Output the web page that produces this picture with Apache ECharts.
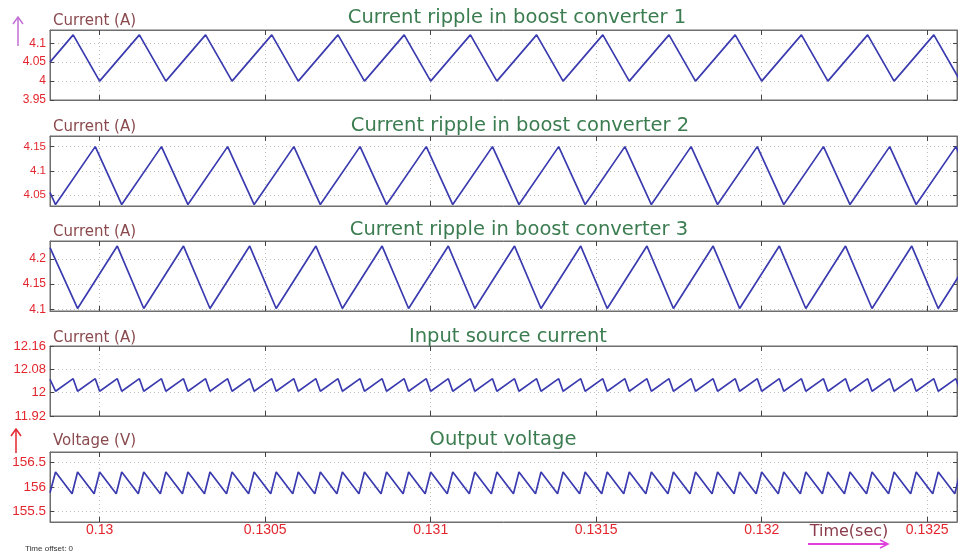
<!DOCTYPE html>
<html>
<head>
<meta charset="utf-8">
<script src="https://cdn.jsdelivr.net/npm/echarts@6/dist/echarts.min.js"></script>
<style>
html,body{margin:0;padding:0;background:#fff;}
#chart{width:958px;height:552px;}
</style>
</head>
<body>
<div id="chart"></div>
<script>
// ---------- data ----------
const panelTitles = [
  'Current ripple in boost converter 1',
  'Current ripple in boost converter 2',
  'Current ripple in boost converter 3',
  'Input source current',
  'Output voltage'
];
const yAxisNames = ['Current (A)', 'Current (A)', 'Current (A)', 'Current (A)', 'Voltage (V)'];
const xTicks = [0.13, 0.1305, 0.131, 0.1315, 0.132, 0.1325];
const xTickLabels = ['0.13', '0.1305', '0.131', '0.1315', '0.132', '0.1325'];
const xRange = [0.12985, 0.13259];

const yTicks1 = [3.95, 4, 4.05, 4.1];
const yTickLabels1 = ['3.95', '4', '4.05', '4.1'];
const yTicks2 = [4.05, 4.1, 4.15];
const yTickLabels2 = ['4.05', '4.1', '4.15'];
const yTicks3 = [4.1, 4.15, 4.2];
const yTickLabels3 = ['4.1', '4.15', '4.2'];
const yTicks4 = [11.92, 12, 12.08, 12.16];
const yTickLabels4 = ['11.92', '12', '12.08', '12.16'];
const yTicks5 = [155.5, 156, 156.5];
const yTickLabels5 = ['155.5', '156', '156.5'];
const yRanges = [[3.95, 4.135], [4.027, 4.172], [4.097, 4.235], [11.92, 12.16], [155.28, 156.72]];

// converter 1 current (time s, current A)
const conv1 = [
  [0.12985, 4.05], [0.12992, 4.122], [0.13000, 4.0], [0.13012, 4.122], [0.13020, 4.0],
  [0.13032, 4.122], [0.13040, 4.0], [0.13052, 4.122], [0.13060, 4.0], [0.13072, 4.122],
  [0.13080, 4.0], [0.13092, 4.122], [0.13100, 4.0], [0.13112, 4.122], [0.13120, 4.0],
  [0.13132, 4.122], [0.13140, 4.0], [0.13152, 4.122], [0.13160, 4.0], [0.13172, 4.122],
  [0.13180, 4.0], [0.13192, 4.122], [0.13200, 4.0], [0.13212, 4.122], [0.13220, 4.0],
  [0.13232, 4.122], [0.13240, 4.0], [0.13252, 4.122], [0.13260, 4.0]
];
// converter 2 current
const conv2 = [
  [0.12985, 4.055], [0.1298667, 4.03], [0.1299867, 4.15], [0.1300667, 4.03], [0.1301867, 4.15],
  [0.1302667, 4.03], [0.1303867, 4.15], [0.1304667, 4.03], [0.1305867, 4.15], [0.1306667, 4.03],
  [0.1307867, 4.15], [0.1308667, 4.03], [0.1309867, 4.15], [0.1310667, 4.03], [0.1311867, 4.15],
  [0.1312667, 4.03], [0.1313867, 4.15], [0.1314667, 4.03], [0.1315867, 4.15], [0.1316667, 4.03],
  [0.1317867, 4.15], [0.1318667, 4.03], [0.1319867, 4.15], [0.1320667, 4.03], [0.1321867, 4.15],
  [0.1322667, 4.03], [0.1323867, 4.15], [0.1324667, 4.03], [0.1325867, 4.15], [0.1326667, 4.03]
];
// converter 3 current
const conv3 = [
  [0.12985, 4.222], [0.1298533, 4.225], [0.1299333, 4.102], [0.1300533, 4.225], [0.1301333, 4.102],
  [0.1302533, 4.225], [0.1303333, 4.102], [0.1304533, 4.225], [0.1305333, 4.102], [0.1306533, 4.225],
  [0.1307333, 4.102], [0.1308533, 4.225], [0.1309333, 4.102], [0.1310533, 4.225], [0.1311333, 4.102],
  [0.1312533, 4.225], [0.1313333, 4.102], [0.1314533, 4.225], [0.1315333, 4.102], [0.1316533, 4.225],
  [0.1317333, 4.102], [0.1318533, 4.225], [0.1319333, 4.102], [0.1320533, 4.225], [0.1321333, 4.102],
  [0.1322533, 4.225], [0.1323333, 4.102], [0.1324533, 4.225], [0.1325333, 4.102], [0.1326533, 4.225]
];
// input source current
const inputCurrent = [
  [0.12985, 12.046],
  [0.1298533, 12.048], [0.1298667, 12.005], [0.1299200, 12.048], [0.1299333, 12.005],
  [0.1299867, 12.048], [0.1300000, 12.005], [0.1300533, 12.048], [0.1300667, 12.005],
  [0.1301200, 12.048], [0.1301333, 12.005], [0.1301867, 12.048], [0.1302000, 12.005],
  [0.1302533, 12.048], [0.1302667, 12.005], [0.1303200, 12.048], [0.1303333, 12.005],
  [0.1303867, 12.048], [0.1304000, 12.005], [0.1304533, 12.048], [0.1304667, 12.005],
  [0.1305200, 12.048], [0.1305333, 12.005], [0.1305867, 12.048], [0.1306000, 12.005],
  [0.1306533, 12.048], [0.1306667, 12.005], [0.1307200, 12.048], [0.1307333, 12.005],
  [0.1307867, 12.048], [0.1308000, 12.005], [0.1308533, 12.048], [0.1308667, 12.005],
  [0.1309200, 12.048], [0.1309333, 12.005], [0.1309867, 12.048], [0.1310000, 12.005],
  [0.1310533, 12.048], [0.1310667, 12.005], [0.1311200, 12.048], [0.1311333, 12.005],
  [0.1311867, 12.048], [0.1312000, 12.005], [0.1312533, 12.048], [0.1312667, 12.005],
  [0.1313200, 12.048], [0.1313333, 12.005], [0.1313867, 12.048], [0.1314000, 12.005],
  [0.1314533, 12.048], [0.1314667, 12.005], [0.1315200, 12.048], [0.1315333, 12.005],
  [0.1315867, 12.048], [0.1316000, 12.005], [0.1316533, 12.048], [0.1316667, 12.005],
  [0.1317200, 12.048], [0.1317333, 12.005], [0.1317867, 12.048], [0.1318000, 12.005],
  [0.1318533, 12.048], [0.1318667, 12.005], [0.1319200, 12.048], [0.1319333, 12.005],
  [0.1319867, 12.048], [0.1320000, 12.005], [0.1320533, 12.048], [0.1320667, 12.005],
  [0.1321200, 12.048], [0.1321333, 12.005], [0.1321867, 12.048], [0.1322000, 12.005],
  [0.1322533, 12.048], [0.1322667, 12.005], [0.1323200, 12.048], [0.1323333, 12.005],
  [0.1323867, 12.048], [0.1324000, 12.005], [0.1324533, 12.048], [0.1324667, 12.005],
  [0.1325200, 12.048], [0.1325333, 12.005], [0.1325867, 12.048], [0.1326000, 12.005]
];
// output voltage
const outputVoltage = [
  [0.1298500, 155.88], [0.1298667, 156.31], [0.1299167, 155.86], [0.1299333, 156.31],
  [0.1299833, 155.86], [0.1300000, 156.31], [0.1300500, 155.86], [0.1300667, 156.31],
  [0.1301167, 155.86], [0.1301333, 156.31], [0.1301833, 155.86], [0.1302000, 156.31],
  [0.1302500, 155.86], [0.1302667, 156.31], [0.1303167, 155.86], [0.1303333, 156.31],
  [0.1303833, 155.86], [0.1304000, 156.31], [0.1304500, 155.86], [0.1304667, 156.31],
  [0.1305167, 155.86], [0.1305333, 156.31], [0.1305833, 155.86], [0.1306000, 156.31],
  [0.1306500, 155.86], [0.1306667, 156.31], [0.1307167, 155.86], [0.1307333, 156.31],
  [0.1307833, 155.86], [0.1308000, 156.31], [0.1308500, 155.86], [0.1308667, 156.31],
  [0.1309167, 155.86], [0.1309333, 156.31], [0.1309833, 155.86], [0.1310000, 156.31],
  [0.1310500, 155.86], [0.1310667, 156.31], [0.1311167, 155.86], [0.1311333, 156.31],
  [0.1311833, 155.86], [0.1312000, 156.31], [0.1312500, 155.86], [0.1312667, 156.31],
  [0.1313167, 155.86], [0.1313333, 156.31], [0.1313833, 155.86], [0.1314000, 156.31],
  [0.1314500, 155.86], [0.1314667, 156.31], [0.1315167, 155.86], [0.1315333, 156.31],
  [0.1315833, 155.86], [0.1316000, 156.31], [0.1316500, 155.86], [0.1316667, 156.31],
  [0.1317167, 155.86], [0.1317333, 156.31], [0.1317833, 155.86], [0.1318000, 156.31],
  [0.1318500, 155.86], [0.1318667, 156.31], [0.1319167, 155.86], [0.1319333, 156.31],
  [0.1319833, 155.86], [0.1320000, 156.31], [0.1320500, 155.86], [0.1320667, 156.31],
  [0.1321167, 155.86], [0.1321333, 156.31], [0.1321833, 155.86], [0.1322000, 156.31],
  [0.1322500, 155.86], [0.1322667, 156.31], [0.1323167, 155.86], [0.1323333, 156.31],
  [0.1323833, 155.86], [0.1324000, 156.31], [0.1324500, 155.86], [0.1324667, 156.31],
  [0.1325167, 155.86], [0.1325333, 156.31], [0.1325833, 155.86], [0.1326000, 156.31]
];

// ---------- layout ----------
const seriesData = [conv1, conv2, conv3, inputCurrent, outputVoltage];
const yTickSets = [yTicks1, yTicks2, yTicks3, yTicks4, yTicks5];
const yLabelSets = [yTickLabels1, yTickLabels2, yTickLabels3, yTickLabels4, yTickLabels5];
const gridTops = [30, 136, 241, 346, 452];
const gridHeight = 70;
const yLabelSizes = [12, 11.5, 12, 13, 13.5];
const titleX = [517, 520, 519, 508, 503];
const titleY = [18, 126, 230, 337, 440];
const nameY = [21, 127, 232, 338, 441];

const LINE_BLUE = '#3b3bb0';
const RED = '#e3262e';
const FRAME = '#6e6e6e';
const TICK = '#444';
const GRIDLINE = '#bdbdbd';
const TITLE_GREEN = '#3b7d50';
const NAME_BROWN = '#8a4a4e';

const grids = [], xAxes = [], yAxes = [], series = [], graphics = [];
for (let i = 0; i < 5; i++) {
  grids.push({left: 50, right: 1, top: gridTops[i], height: gridHeight,
    show: true, borderColor: FRAME, borderWidth: 1, backgroundColor: 'transparent'});
  const fmtX = (v) => { const k = xTicks.findIndex(t => Math.abs(t - v) < 1e-9); return k >= 0 ? xTickLabels[k] : ''; };
  xAxes.push({type: 'value', gridIndex: i, position: 'bottom', min: xRange[0], max: xRange[1],
    axisLine: {show: true, onZero: false, lineStyle: {color: FRAME, width: 1}},
    axisTick: {show: true, inside: true, length: 5, customValues: xTicks, lineStyle: {color: TICK, width: 1}},
    axisLabel: {show: i === 4, customValues: xTicks, margin: 1, formatter: fmtX,
      color: RED, fontFamily: 'Liberation Sans', fontSize: 14},
    splitLine: {show: true, lineStyle: {type: [1, 3], color: GRIDLINE, width: 1}}
  });
  xAxes.push({type: 'value', gridIndex: i, position: 'top', min: xRange[0], max: xRange[1],
    axisLine: {show: true, onZero: false, lineStyle: {color: FRAME, width: 1}},
    axisTick: {show: true, inside: true, length: 5, customValues: xTicks, lineStyle: {color: TICK, width: 1}},
    axisLabel: {show: false}, splitLine: {show: false}
  });
  const yt = yTickSets[i], yl = yLabelSets[i];
  const fmtY = (v) => { const k = yt.findIndex(t => Math.abs(t - v) < 1e-9); return k >= 0 ? yl[k] : ''; };
  yAxes.push({type: 'value', gridIndex: i, position: 'left', min: yRanges[i][0], max: yRanges[i][1],
    axisLine: {show: true, onZero: false, lineStyle: {color: FRAME, width: 1}},
    axisTick: {show: true, inside: true, length: 4, customValues: yt, lineStyle: {color: TICK, width: 1}},
    axisLabel: {customValues: yt, margin: 4, formatter: fmtY, color: RED,
      fontFamily: 'Liberation Sans', fontSize: yLabelSizes[i]},
    splitLine: {show: true, lineStyle: {type: [1, 3], color: GRIDLINE, width: 1}}
  });
  yAxes.push({type: 'value', gridIndex: i, position: 'right', min: yRanges[i][0], max: yRanges[i][1],
    axisLine: {show: true, onZero: false, lineStyle: {color: FRAME, width: 1}},
    axisTick: {show: true, inside: true, length: 4, customValues: yt, lineStyle: {color: TICK, width: 1}},
    axisLabel: {show: false}, splitLine: {show: false}
  });
  series.push({type: 'line', xAxisIndex: i * 2, yAxisIndex: i * 2, data: seriesData[i],
    showSymbol: false, symbol: 'none', clip: true, animation: false,
    lineStyle: {color: LINE_BLUE, width: 1.7}});
  graphics.push({type: 'text', x: titleX[i], y: titleY[i], z: 10,
    style: {text: panelTitles[i], textAlign: 'center', textVerticalAlign: 'middle',
      font: '19.5px "DejaVu Sans"', fill: TITLE_GREEN}});
  graphics.push({type: 'text', x: 53, y: nameY[i], z: 10,
    style: {text: yAxisNames[i], textAlign: 'left', textVerticalAlign: 'middle',
      font: '15px "DejaVu Sans"', fill: NAME_BROWN}});
}

graphics.push(
  {type: 'line', shape: {x1: 18, y1: 46, x2: 18, y2: 18}, style: {stroke: '#c26fd6', lineWidth: 1.5}},
  {type: 'polyline', shape: {points: [[13, 24], [18, 17], [23, 24]]}, style: {stroke: '#c26fd6', lineWidth: 1.5, fill: null}},
  {type: 'line', shape: {x1: 16, y1: 453, x2: 16, y2: 430}, style: {stroke: '#e3262e', lineWidth: 1.5}},
  {type: 'polyline', shape: {points: [[11, 436], [16, 429], [21, 436]]}, style: {stroke: '#e3262e', lineWidth: 1.5, fill: null}},
  {type: 'line', shape: {x1: 808, y1: 544, x2: 887, y2: 544}, style: {stroke: '#e040dc', lineWidth: 1.8}},
  {type: 'polyline', shape: {points: [[880, 540], [888, 544], [880, 548]]}, style: {stroke: '#e040dc', lineWidth: 1.5, fill: null}},
  {type: 'text', x: 849, y: 532, style: {text: 'Time(sec)', textAlign: 'center', textVerticalAlign: 'middle',
    font: '16px "DejaVu Sans"', fill: '#8a3c4a'}},
  {type: 'text', x: 25, y: 549, style: {text: 'Time offset: 0', textAlign: 'left', textVerticalAlign: 'middle',
    font: '8px "Liberation Sans"', fill: '#333'}}
);

const chart = echarts.init(document.getElementById('chart'), null, {renderer: 'canvas'});
chart.setOption({
  animation: false,
  backgroundColor: '#ffffff',
  grid: grids,
  xAxis: xAxes,
  yAxis: yAxes,
  series: series,
  graphic: graphics
});
</script>
</body>
</html>
